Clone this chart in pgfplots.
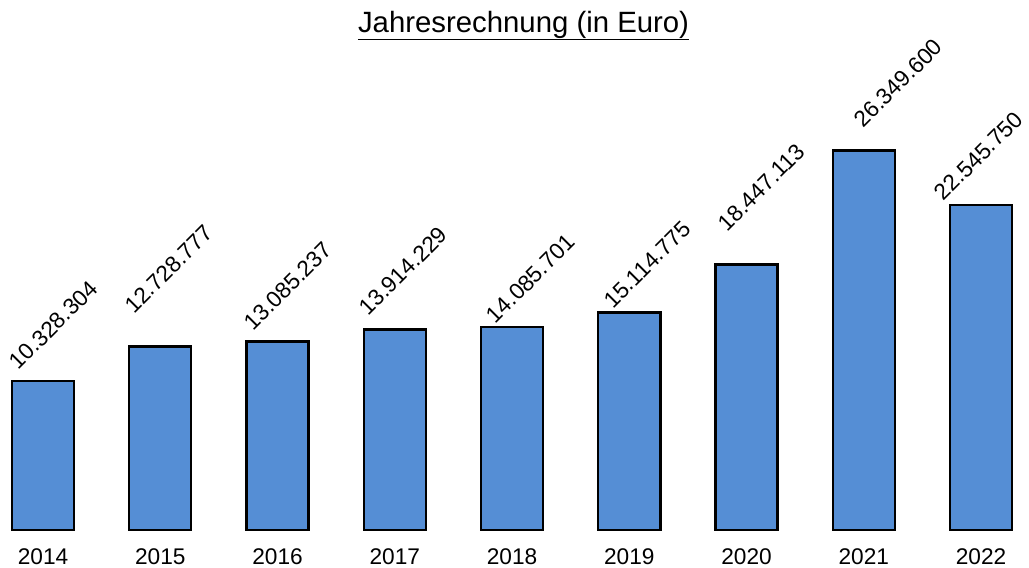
\documentclass[border=0pt]{standalone}
\usepackage{pgfplots}
\pgfplotsset{compat=1.18}
\usepackage{pgfplotstable}
\usepackage{fontspec}
\setmainfont{Liberation Sans}
\definecolor{barblue}{HTML}{558ED5}
\pgfplotstableread{
x y label dx dy
0 10328304 10.328.304 -18 6.75
1 12728777 12.728.777 -19.5 22.5
2 13085237 13.085.237 -18 6
3 13914229 13.914.229 -19.5 8.25
4 14085701 14.085.701 -12 0.75
5 15114775 15.114.775 -12 0.75
6 18447113 18.447.113 -14.25 22.5
7 26349600 26.349.600 0 15
8 22545750 22.545.750 -27.75 1.5
}\datatable
\begin{document}
\begin{tikzpicture}
\begin{axis}[
  scale only axis,
  width=771.75pt, height=397.5pt,
  xmin=-0.367, xmax=8.409,
  ymin=0, ymax=36.8e6,
  clip=false,
  axis y line=none,
  axis x line*=bottom,
  x axis line style={draw=none},
  xtick={0,...,8},
  xticklabels={2014,2015,2016,2017,2018,2019,2020,2021,2022},
  major tick length=0pt,
  xtick style={draw=none},
  xticklabel style={font=\fontsize{17}{20}\selectfont, inner sep=0pt, anchor=north, yshift=-13.5pt},
  ybar, bar width=46.5pt,
  nodes near coords={\pgfplotspointmeta},
  point meta=explicit symbolic,
  visualization depends on={\thisrow{dx}\as\dx},
  visualization depends on={\thisrow{dy}\as\dy},
  nodes near coords style={font=\fontsize{17}{20}\selectfont, inner sep=0pt, xshift=\dx pt, yshift=\dy pt, rotate=45, anchor=south west},
]
\addplot[fill=barblue, draw=black, line width=1.8pt] table[x=x, y=y, meta=label] {\datatable};
\coordinate (bl) at (rel axis cs:0,0);
\coordinate (tr) at (rel axis cs:1,1);
\node[anchor=base, inner sep=0pt, font=\fontsize{22}{26}\selectfont] (ttl) at (rel axis cs:0.5088,0.9396) {Jahresrechnung (in Euro)};
\draw[line width=1.2pt] ([yshift=-5.5pt]ttl.base west) -- ([yshift=-5.5pt]ttl.base east);
\end{axis}
\pgfresetboundingbox
\path[use as bounding box] ([yshift=-28.5pt]bl) rectangle (tr);
\end{tikzpicture}
\end{document}
